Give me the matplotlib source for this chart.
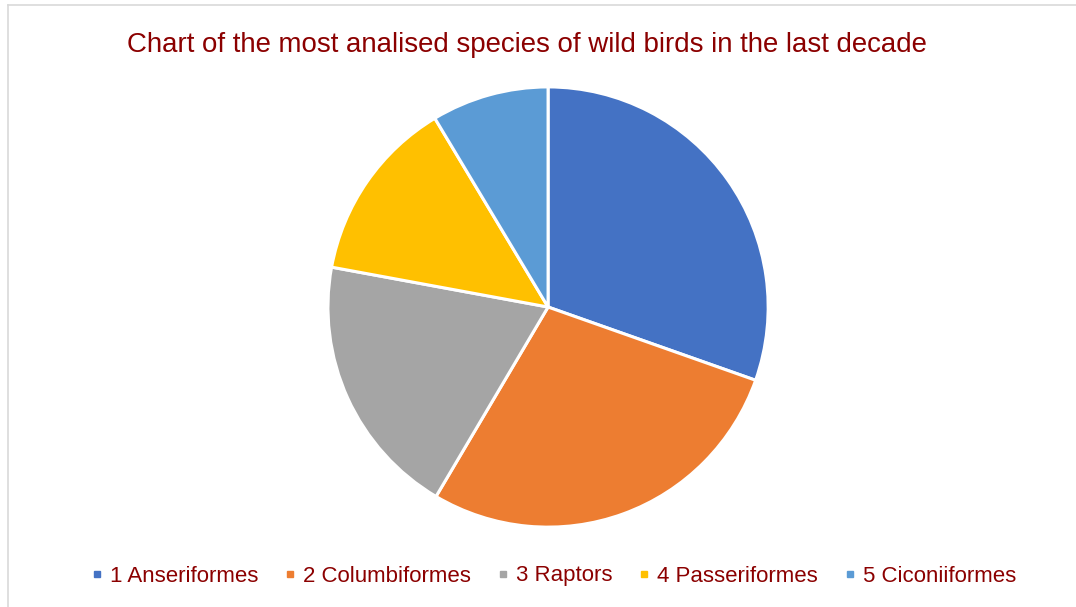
import matplotlib.pyplot as plt
from matplotlib.lines import Line2D

plt.rcParams['font.family'] = ['Liberation Sans', 'DejaVu Sans']

# data
species = ['1 Anseriformes', '2 Columbiformes', '3 Raptors', '4 Passeriformes', '5 Ciconiiformes']
shares = [30.4, 28.1, 19.4, 13.5, 8.6]
colors = ['#4472C4', '#ED7D31', '#A5A5A5', '#FFC000', '#5B9BD5']
title_color = '#8B0000'

fig = plt.figure(figsize=(10.76, 6.07), dpi=100)

# light frame (left and top edges visible in the reference)
fig.add_artist(Line2D([8 / 1076, 8 / 1076], [0, 1 - 5 / 607], color='#D9D9D9', lw=1.2))
fig.add_artist(Line2D([8 / 1076, 1], [1 - 5 / 607, 1 - 5 / 607], color='#D9D9D9', lw=1.2))

ax = fig.add_axes([0.3058, 0.1334, 0.4071, 0.7216])
ax.pie(shares, colors=colors, startangle=90, counterclock=False,
       wedgeprops={'edgecolor': 'white', 'linewidth': 2.2})
ax.set_xlim(-0.995, 0.995)
ax.set_ylim(-0.995, 0.995)
ax.set_aspect('equal')

fig.text(0.4893, 1 - 45 / 607, 'Chart of the most analised species of wild birds in the last decade',
         ha='center', va='center', fontsize=19.9, color=title_color)

handles = [Line2D([], [], marker='s', linestyle='none', markersize=5,
                  markerfacecolor=c, markeredgecolor=c) for c in colors]
fig.legend(handles, species, loc='center', bbox_to_anchor=(0.514, 1 - 576 / 607), ncol=5,
           frameon=False, fontsize=16, labelcolor=title_color, handlelength=0.6,
           handletextpad=0.3, columnspacing=1.12)

fig.savefig('out.png', dpi=100)
